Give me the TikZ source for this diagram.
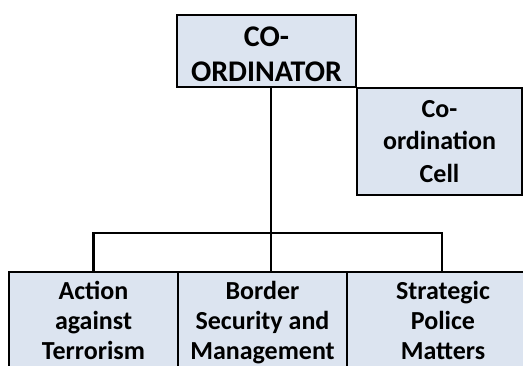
\documentclass[tikz,border=0pt]{standalone}
\usepackage{fontspec}
\setmainfont{Carlito}
\usepackage{tikz}
\usetikzlibrary{calc}
\usetikzlibrary{positioning}
\definecolor{boxfill}{RGB}{220,228,240}

\begin{document}
\begin{tikzpicture}
		[
		x=1pt, y=1pt,
		font=\bfseries,
		line width=2.2pt
		]
		
		% Box styles
		\tikzstyle{unit box}=[draw,fill=boxfill,align=center,inner sep=0];
		\tikzstyle{head box}=[unit box,minimum width=179,minimum height=72,text height=61pt,font=\bfseries\fontsize{30}{35}\selectfont];
		\tikzstyle{cell box}=[unit box,minimum width=165,minimum height=107,font=\bfseries\fontsize{26}{32.5}\selectfont];
		\tikzstyle{wing box}=[unit box,anchor=north,inner ysep=9,font=\bfseries\fontsize{26}{30}\selectfont];
		
		\useasboundingbox (0,0) rectangle (523,365);
		\clip (0,0) rectangle (523,365);
		
		% The boxes
		\node(head)[head box] at (266.5,314){CO-\\ORDINATOR};
		\node(cell)[cell box] at (439.5,223.5){Co-\\ordination\\Cell};
		\node(terror)[wing box,minimum width=169] at (93.5,94){Action\\against\\Terrorism};
		\node(border)[wing box,minimum width=169] at (262.5,94){Border\\Security and\\Management};
		\node(police)[wing box,minimum width=192] at (443,94){Strategic\\Police\\Matters};
		
		% The bus
		\coordinate(bus) at (271,132);
		\draw ([xshift=4.5]head.south) -- (bus);
		\draw (bus) -- ([xshift=8.5]border.north);
		\draw (bus) -| (terror.north);
		\draw (bus) -| ([xshift=-1]police.north);
		
\end{tikzpicture}
\end{document}
